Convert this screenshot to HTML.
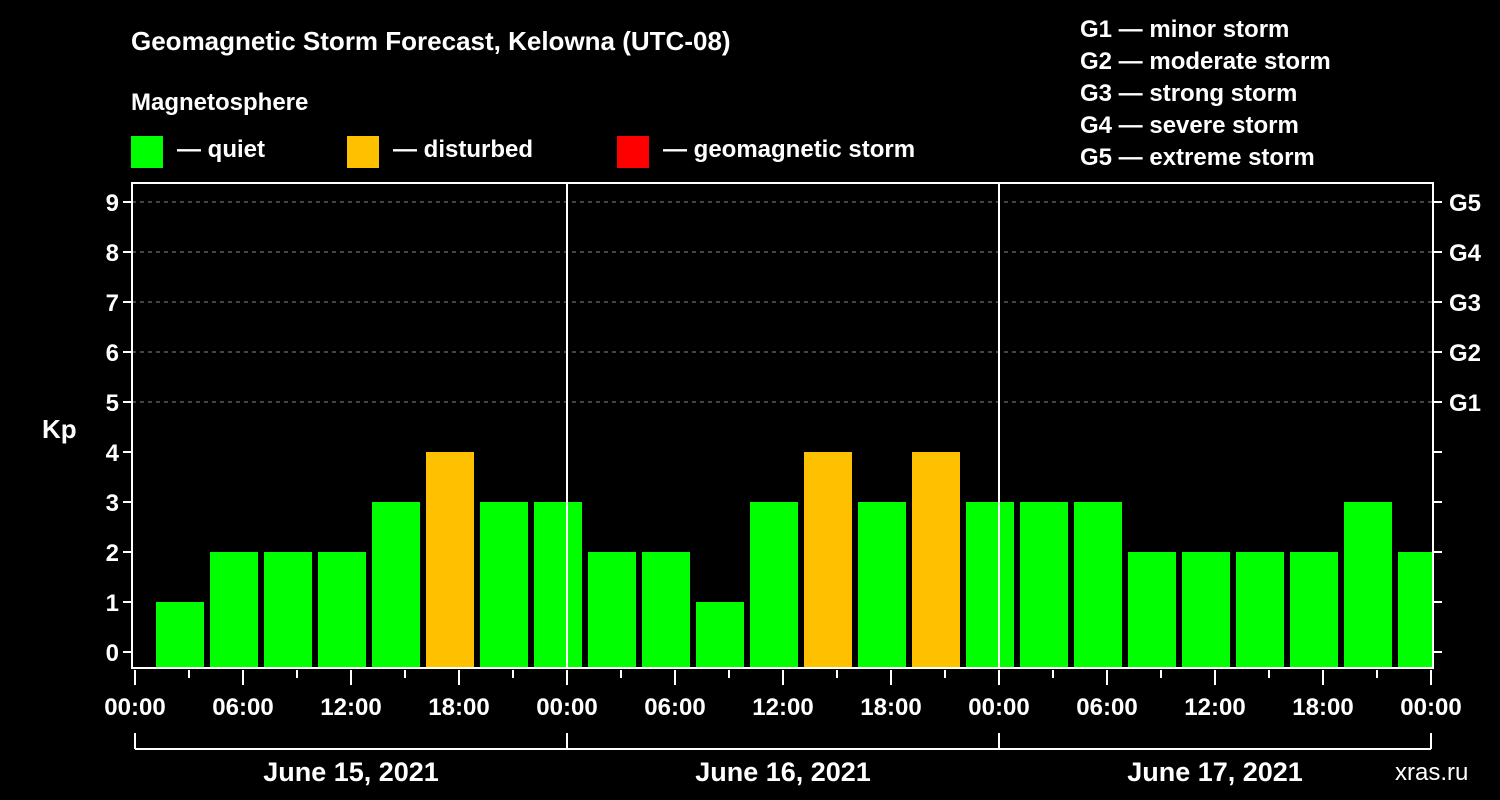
<!DOCTYPE html>
<html><head><meta charset="utf-8">
<style>
html,body{margin:0;padding:0;background:#000;width:1500px;height:800px;overflow:hidden}
svg{display:block;font-family:"Liberation Sans",sans-serif;font-weight:bold}
</style></head>
<body>
<svg id="chart" width="1500" height="800" viewBox="0 0 1500 800" xmlns="http://www.w3.org/2000/svg">
<rect width="1500" height="800" fill="#000"/>
<text x="131" y="50" fill="#fff" font-size="26">Geomagnetic Storm Forecast, Kelowna (UTC-08)</text>
<text x="131" y="110" fill="#fff" font-size="24">Magnetosphere</text>
<g><rect x="131" y="136" width="32" height="32" fill="#00ff00"/><text x="177" y="157" fill="#fff" font-size="24">— quiet</text></g>
<g><rect x="347" y="136" width="32" height="32" fill="#ffc000"/><text x="393" y="157" fill="#fff" font-size="24">— disturbed</text></g>
<g><rect x="617" y="136" width="32" height="32" fill="#ff0000"/><text x="663" y="157" fill="#fff" font-size="24">— geomagnetic storm</text></g>
<g fill="#fff" font-size="24">
<text x="1080" y="37">G1 — minor storm</text>
<text x="1080" y="69">G2 — moderate storm</text>
<text x="1080" y="101">G3 — strong storm</text>
<text x="1080" y="133">G4 — severe storm</text>
<text x="1080" y="165">G5 — extreme storm</text>
</g>
<g id="grid"></g>
<g id="bars"></g>
<g id="axes"></g>
<text x="42" y="438" fill="#fff" font-size="26">Kp</text>
<text x="1395" y="780" fill="#fff" font-size="24" font-weight="normal">xras.ru</text>
</svg>
<script>
const kpValues = [2,1,2,2,2,3,4,3,3,2,2,1,3,4,3,4,3,3,3,2,2,2,2,3,2];
const barHours = [-2.5,2.5,5.5,8.5,11.5,14.5,17.5,20.5,23.5,26.5,29.5,32.5,35.5,38.5,41.5,44.5,47.5,50.5,53.5,56.5,59.5,62.5,65.5,68.5,71.5];
const dayLabels = ["June 15, 2021","June 16, 2021","June 17, 2021"];
const xTickLabels = ["00:00","06:00","12:00","18:00"];
const gLabels = ["G1","G2","G3","G4","G5"];

const NS="http://www.w3.org/2000/svg";
const X0=135, PX_H=18, Y0=652, PX_KP=50, LEFT=132, RIGHT=1433, TOP=183, BOTTOM=668;
const xs=h=>X0+h*PX_H, ys=v=>Y0-v*PX_KP;
function mk(tag,attrs,parent,text){const e=document.createElementNS(NS,tag);for(const k in attrs)e.setAttribute(k,attrs[k]);if(text!==undefined)e.textContent=text;parent.appendChild(e);return e;}
const grid=document.getElementById('grid'),bars=document.getElementById('bars'),axes=document.getElementById('axes');

for(let v=5;v<=9;v++){
  const l=mk('line',{x1:LEFT,x2:RIGHT,y1:ys(v),y2:ys(v),stroke:'#888','stroke-dasharray':'4,4','stroke-width':1},grid);
  
  
}
const clip=mk('clipPath',{id:'pc'},mk('defs',{},document.getElementById('chart')));
mk('rect',{x:LEFT+2,y:TOP,width:RIGHT-LEFT-3,height:BOTTOM-TOP},clip);
bars.setAttribute('clip-path','url(#pc)');
kpValues.forEach((v,i)=>{
  const cx=xs(barHours[i]);
  const r=mk('rect',{x:cx-24,y:ys(v),width:48,height:BOTTOM-ys(v),fill:v>=5?'#ff0000':(v>=4?'#ffc000':'#00ff00')},bars);
  
  
});
// frame
const f=mk('path',{d:`M${LEFT},${TOP}H${RIGHT}V${BOTTOM}H${LEFT}Z`,fill:'none',stroke:'#fff','stroke-width':2},axes);


for(let d=1;d<3;d++){
  const l=mk('line',{x1:xs(24*d),x2:xs(24*d),y1:TOP,y2:BOTTOM,stroke:'#fff','stroke-width':2},axes);
  
  
}
for(let v=0;v<=9;v++){
  mk('line',{x1:LEFT-9,x2:LEFT,y1:ys(v),y2:ys(v),stroke:'#fff','stroke-width':2},axes);
  mk('line',{x1:RIGHT,x2:RIGHT+9,y1:ys(v),y2:ys(v),stroke:'#fff','stroke-width':2},axes);
  const t=mk('text',{x:LEFT-13,y:ys(v)+9,fill:'#fff','font-size':24,'text-anchor':'end'},axes,String(v));
  
  
}
gLabels.forEach((g,i)=>{
  const t=mk('text',{x:RIGHT+16,y:ys(5+i)+9,fill:'#fff','font-size':24},axes,g);
  
  
});
for(let h=0;h<=72;h+=3){
  const major=h%6===0;
  mk('line',{x1:xs(h),x2:xs(h),y1:BOTTOM+2,y2:BOTTOM+(major?17:10),stroke:'#fff','stroke-width':2},axes);
  if(major){
    const t=mk('text',{x:xs(h),y:715,fill:'#fff','font-size':24,'text-anchor':'middle'},axes,xTickLabels[(h/6)%4]);
    
    
  }
}
mk('line',{x1:xs(0),x2:xs(72),y1:749,y2:749,stroke:'#fff','stroke-width':2},axes);
for(let d=0;d<=3;d++) mk('line',{x1:xs(24*d),x2:xs(24*d),y1:733,y2:749,stroke:'#fff','stroke-width':2},axes);
dayLabels.forEach((s,i)=>{
  const t=mk('text',{x:xs(24*i+12),y:781,fill:'#fff','font-size':27,'text-anchor':'middle'},axes,s);
  
  
});
</script>
</body></html>
